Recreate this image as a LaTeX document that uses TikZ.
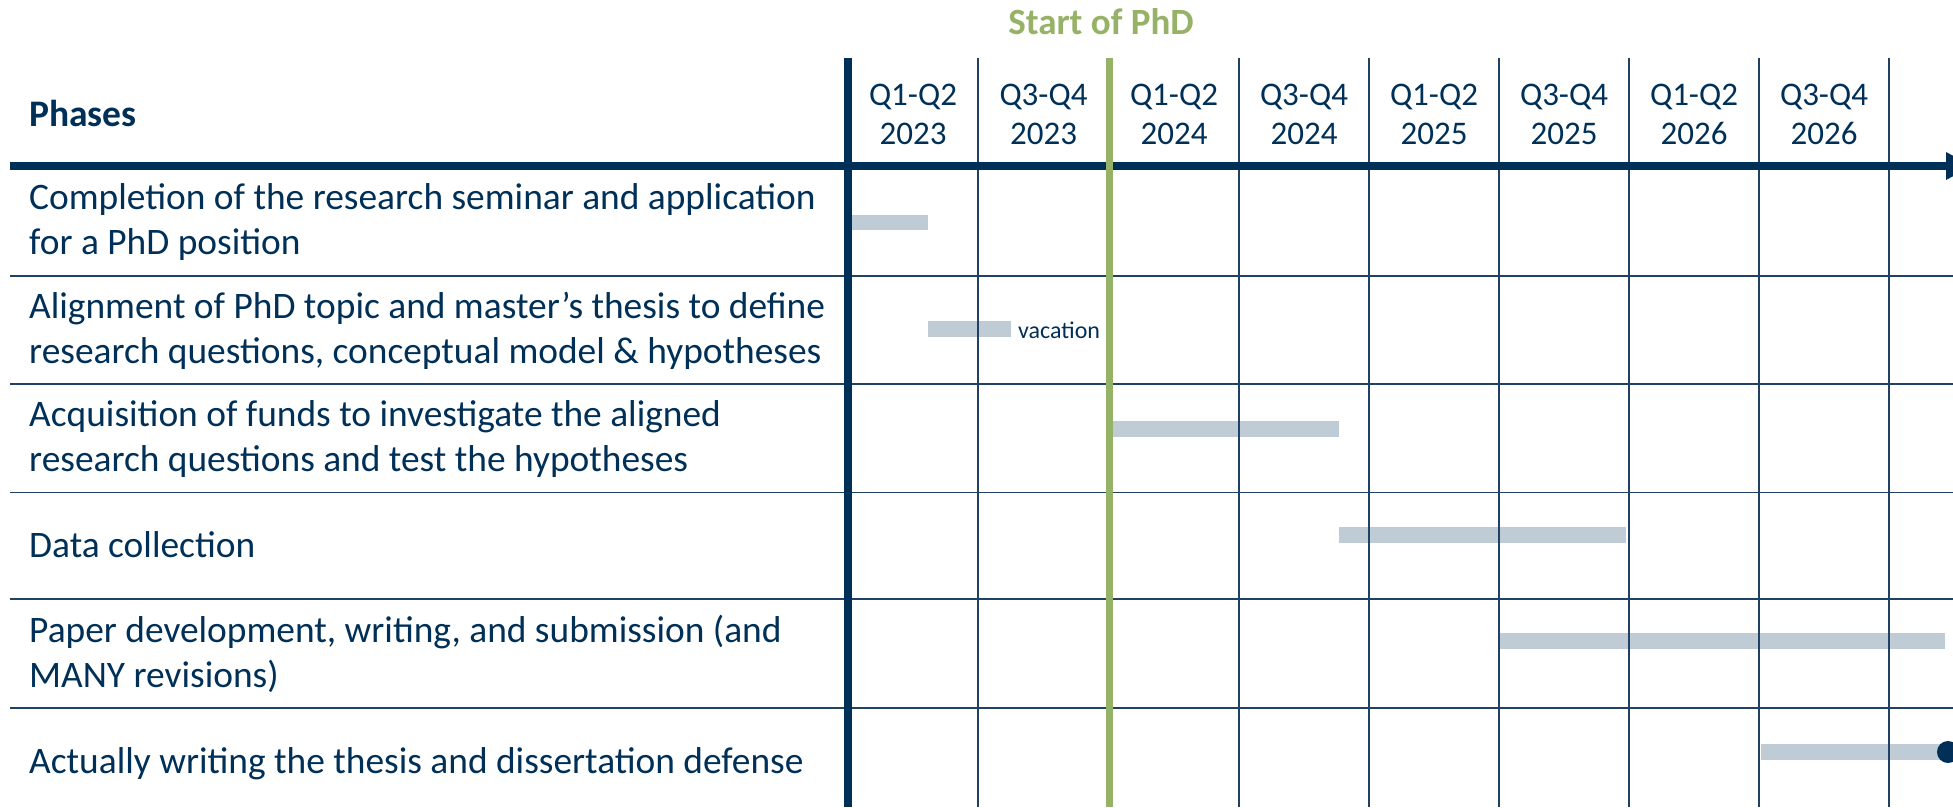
\documentclass[tikz,border=0pt]{standalone}
\usepackage{fontspec}
\setmainfont{Carlito}
\definecolor{navy}{RGB}{0,48,87}
\definecolor{phdgreen}{RGB}{150,178,102}
\definecolor{barc}{RGB}{191,203,213}
\definecolor{gridc}{RGB}{30,65,100}
\begin{document}
\begin{tikzpicture}[x=1pt,y=-1pt,
  lbl/.style={anchor=base west, align=left, text=navy, font=\fontsize{37.4}{44.5}\selectfont, inner sep=0pt},
  hdr/.style={anchor=base, align=center, text=navy, font=\fontsize{33}{39}\selectfont, inner sep=0pt},
  barbox/.style={fill=barc},
  gridline/.style={draw=gridc, line width=1.8pt},
  thickline/.style={draw=navy, line width=7.5pt},
  greenline/.style={draw=phdgreen, line width=7pt}]
\useasboundingbox (0,0) rectangle (1953,807);
\clip (0,0) rectangle (1953,807);
% bars
\fill[barbox] (852,215) rectangle (928,230);
\fill[barbox] (928,321) rectangle (1011,337);
\fill[barbox] (1112,421) rectangle (1339,437);
\fill[barbox] (1339,527) rectangle (1626,543);
\fill[barbox] (1498,633) rectangle (1945,649);
\fill[barbox] (1761,744) rectangle (1945,760);
% horizontal row lines
\foreach \yy in {276,384,492.5,599,708}{
  \draw[gridline] (10,\yy) -- (1953,\yy);
}
% thin vertical lines
\foreach \xx in {978,1239,1369,1499,1629,1759,1889}{
  \draw[gridline] (\xx,58) -- (\xx,807);
}
% thick header line with arrow
\draw[thickline] (10,166) -- (1948,166);
\fill[navy] (1946,152) -- (1972,166) -- (1946,180) -- cycle;
% thick vertical
\draw[thickline] (848,58) -- (848,807);
% green start line
\draw[greenline] (1109,58) -- (1109,807);
% end milestone
\fill[navy] (1948,752) circle (11);
% texts
\node[anchor=base, text=phdgreen, font=\fontsize{37}{40}\selectfont\bfseries, inner sep=0pt] (start) at (1101,34) {Start of PhD};
\node[anchor=base west, text=navy, font=\fontsize{37.5}{40}\selectfont\bfseries, inner sep=0pt] (phases) at (29,126) {Phases};
\foreach \cx/\q/\yr [count=\i] in {913/Q1-Q2/2023,1043.5/Q3-Q4/2023,1174/Q1-Q2/2024,1304/Q3-Q4/2024,1434/Q1-Q2/2025,1564/Q3-Q4/2025,1694/Q1-Q2/2026,1824/Q3-Q4/2026}{
  \node[hdr] (h\i) at (\cx,144) {\q\\\yr};
}
\node[lbl] (p1) at (29,254) {Completion of the research seminar and application\\for a PhD position};
\node[lbl] (p2) at (29,363) {Alignment of PhD topic and master’s thesis to define\\research questions, conceptual model \& hypotheses};
\node[lbl] (p3) at (29,471) {Acquisition of funds to investigate the aligned\\research questions and test the hypotheses};
\node[lbl] (p4) at (29,557) {Data collection};
\node[lbl] (p5) at (29,687) {Paper development, writing, and submission (and\\MANY revisions)};
\node[lbl] (p6) at (29,773) {Actually writing the thesis and dissertation defense};
\node[anchor=base west, text=navy, font=\fontsize{24}{28}\selectfont, inner sep=0pt] (vac) at (1018,338) {vacation};
\end{tikzpicture}
\end{document}
